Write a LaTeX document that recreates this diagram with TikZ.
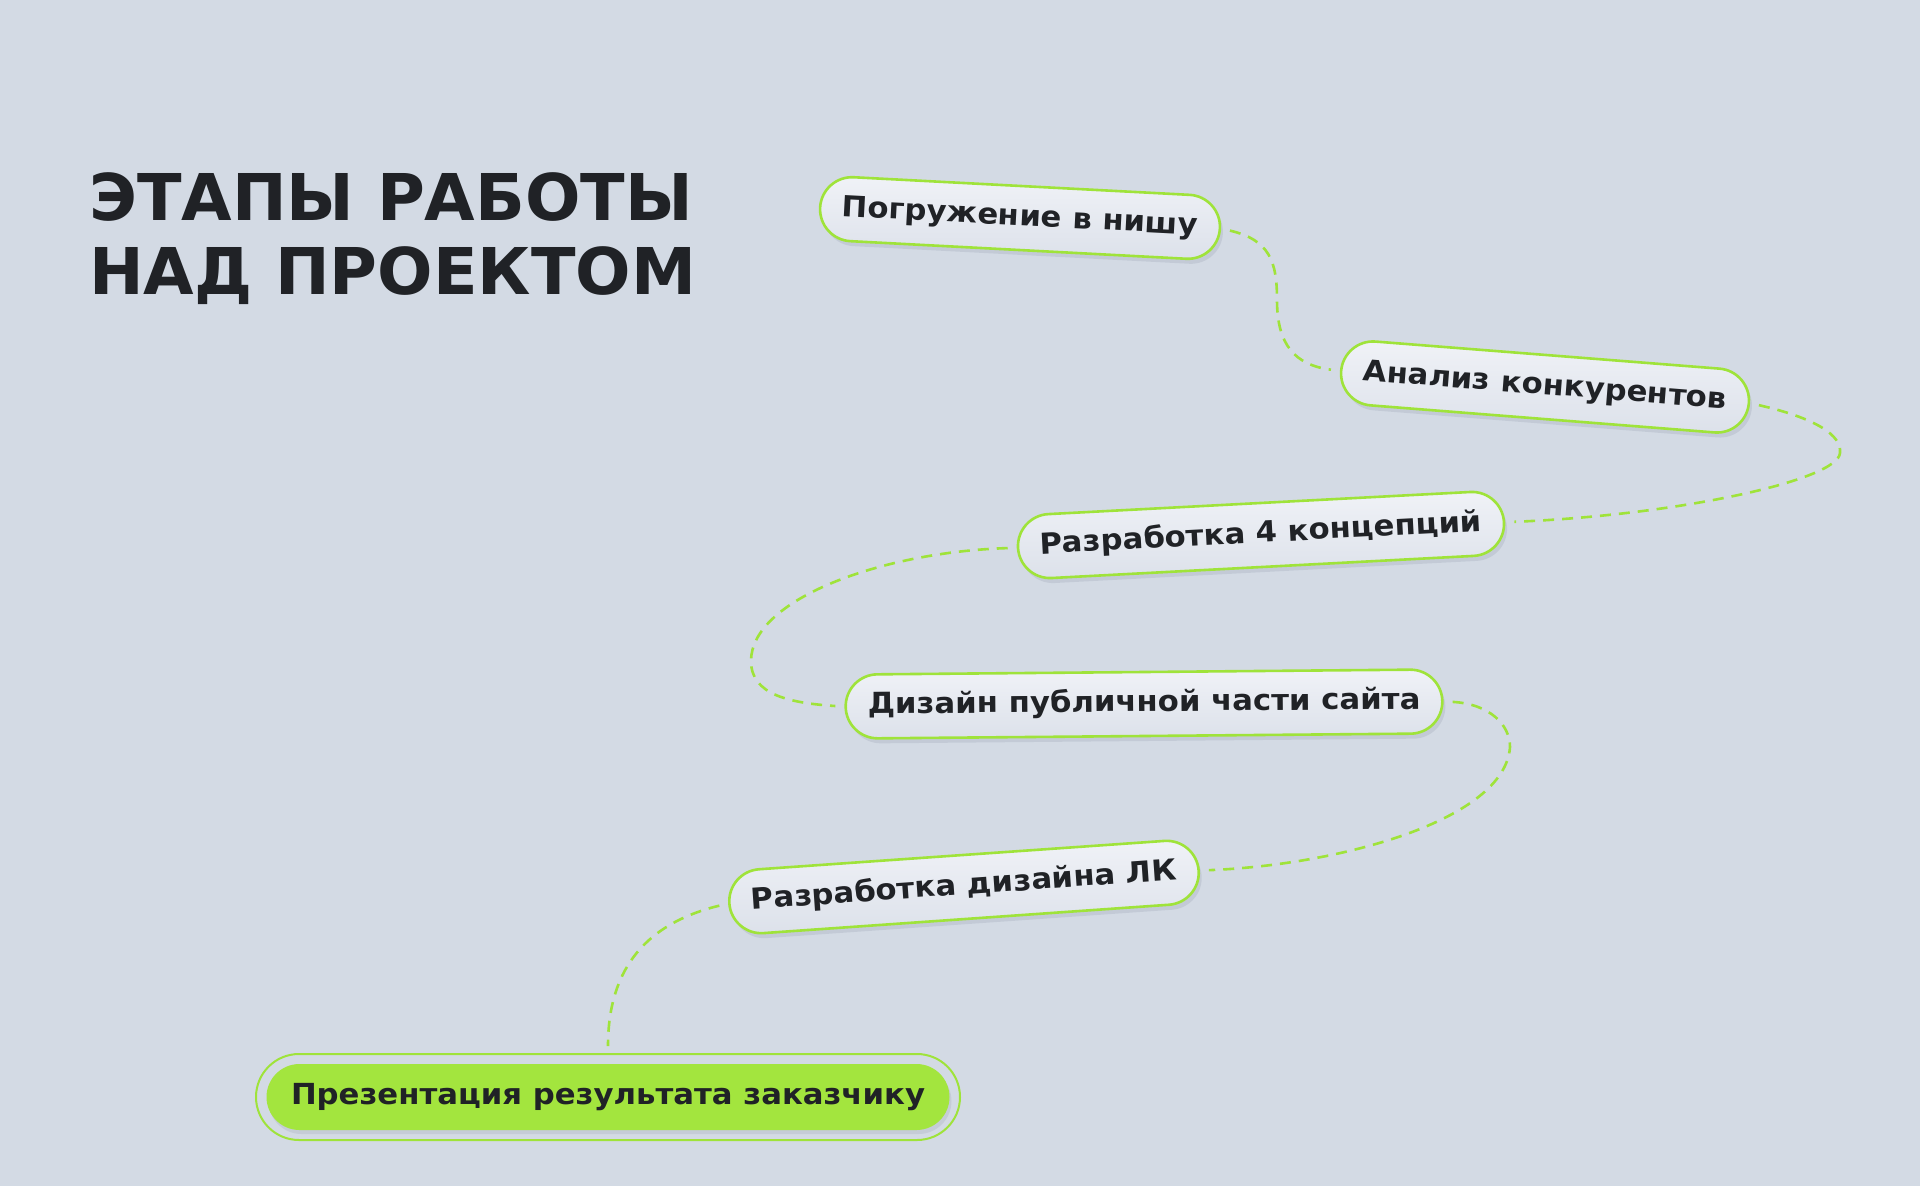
\documentclass[tikz,border=0pt]{standalone}
\usepackage{fontspec}
\setmainfont{DejaVu Sans}
\newfontfamily\pillfont{DejaVu Sans}[FakeStretch=1.06]
\newfontfamily\headfont{DejaVu Sans}[FakeStretch=1.012]
\usetikzlibrary{shadows}
\definecolor{bgc}{HTML}{D3DAE4}
\definecolor{lime}{HTML}{9FE33A}
\definecolor{limefill}{HTML}{A3E53E}
\definecolor{ink}{HTML}{202226}
\definecolor{pilltop}{HTML}{F0F2F7}
\definecolor{pillbot}{HTML}{DCE1EA}
\definecolor{shadowc}{HTML}{7C8698}
\begin{document}
\begin{tikzpicture}[x=1pt,y=-1pt,
  softshadow/.style={drop shadow={shadow xshift=3pt, shadow yshift=-5pt, fill=shadowc, opacity=0.18, draw=none}},
  pill/.style={draw=lime, line width=2.6pt, rounded corners=32pt, minimum height=64pt,
    inner xsep=22pt, inner ysep=0pt, top color=pilltop, bottom color=pillbot, text=ink,
    font=\pillfont\bfseries\fontsize{29}{29}\selectfont, text height=21pt, text depth=6pt,
    softshadow},
  conn/.style={draw=lime, line width=2.6pt, dash pattern=on 11pt off 8pt, shorten <=9pt, shorten >=9pt},
  titletext/.style={anchor=base west, inner sep=0pt, text=ink, font=\headfont\bfseries\fontsize{64.5}{64.5}\selectfont}]
\fill[bgc] (0,0) rectangle (1920,1186);
\useasboundingbox (0,0) rectangle (1920,1186);

\node[titletext] (t1) at (89,220) {ЭТАПЫ РАБОТЫ};
\node[titletext] (t2) at (89,294) {НАД ПРОЕКТОМ};

\node[pill, rotate=-3]   (n1) at (1020,218) {Погружение в нишу};
\node[pill, rotate=-4.5] (n2) at (1545,387) {Анализ конкурентов};
\node[pill, rotate=3]    (n3) at (1261,535) {Разработка 4 концепций};
\node[pill, rotate=0.5]  (n4) at (1144,704) {Дизайн публичной части сайта};
\node[pill, rotate=4]    (n5) at (964,887)  {Разработка дизайна ЛК};

\node[draw=lime, line width=2pt, rounded corners=43pt, minimum width=704pt, minimum height=86pt] (ring) at (608,1097) {};
\node[fill=limefill, rounded corners=33pt, minimum width=683pt, minimum height=66pt, inner sep=0pt,
  text=ink, font=\pillfont\bfseries\fontsize{29}{29}\selectfont, text height=21pt, text depth=6pt,
  drop shadow={shadow xshift=2pt, shadow yshift=-4pt, fill=shadowc, opacity=0.16, draw=none}]
  (n6) at (608,1097) {Презентация результата заказчику};

\draw[conn] (n1.east) .. controls (1270,240) and (1277,262) .. (1277,300) .. controls (1277,345) and (1295,365) .. (n2.west);
\draw[conn] (n2.east) .. controls (1815,418) and (1842,435) .. (1840,453) .. controls (1838,480) and (1680,515) .. (n3.east);
\draw[conn] (n3.west) .. controls (880,552) and (751,600) .. (751,661) .. controls (751,695) and (790,703) .. (n4.west);
\draw[conn] (n4.east) .. controls (1490,704) and (1510,725) .. (1510,747) .. controls (1505,820) and (1340,865) .. (n5.east);
\draw[conn, shorten >=7pt] (n5.west) .. controls (640,925) and (608,975) .. (ring.north);
\end{tikzpicture}
\end{document}
